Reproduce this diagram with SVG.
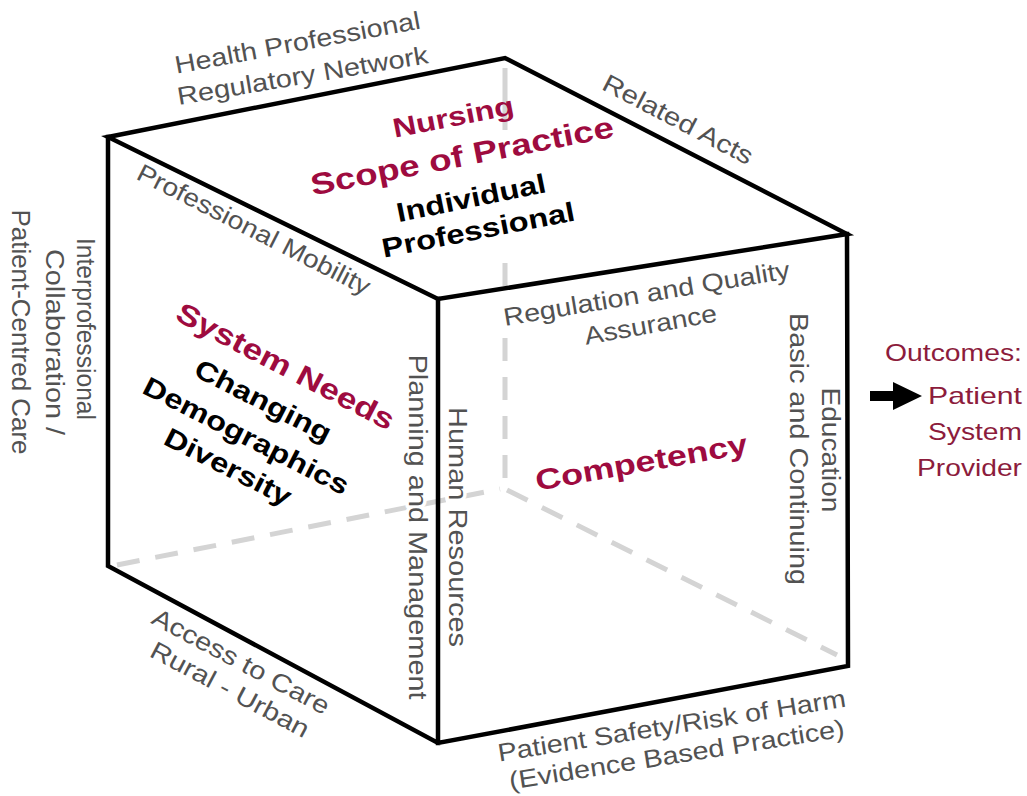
<svg xmlns="http://www.w3.org/2000/svg" width="1027" height="796" viewBox="0 0 1027 796">
<style>
text { font-family: "Liberation Sans", Arial, sans-serif; }
.lbl { font-size: 25px; fill: #525252; text-anchor: middle; }
.vl { font-size: 26px; fill: #525252; text-anchor: middle; paint-order: stroke; stroke: #ffffff; stroke-width: 7px; stroke-linejoin: round; }
.hd { font-weight: bold; fill: #9e0b3f; text-anchor: middle; }
.bk { font-weight: bold; fill: #000000; text-anchor: middle; font-size: 27px; }
.out { font-size: 24px; fill: #8c1c3c; text-anchor: end; }
.edge { fill: none; stroke: #000000; stroke-width: 4.5; stroke-linejoin: miter; stroke-linecap: square; }
.hid { fill: none; stroke: #d4d4d4; stroke-width: 5; }
.dash { stroke-dasharray: 23 16; }
</style>
<rect width="1027" height="796" fill="#ffffff"/>

<g id="connectors">
  <path class="hid" d="M505,68 V130 M505,263 V286"/>
  <path class="hid dash" d="M505,338 V480"/>
  <path class="hid dash" d="M117,565 L500,489"/>
  <path class="hid dash" d="M507,490 L837,655"/>
</g>

<g id="cube">
  <path class="edge" d="M108,137 L505,58 L847,234 L438,299 Z"/>
  <path class="edge" d="M108,137 V566 L438,743 L848,666 L847,234 M438,299 V743"/>
</g>

<g id="top-face">
  <text class="hd" font-size="27" textLength="123" lengthAdjust="spacingAndGlyphs" transform="translate(455,126) rotate(-11)">Nursing</text>
  <text class="hd" font-size="30" textLength="308" lengthAdjust="spacingAndGlyphs" transform="translate(464,166) rotate(-11)">Scope of Practice</text>
  <text class="bk" textLength="152" lengthAdjust="spacingAndGlyphs" transform="translate(473,207) rotate(-11.5)">Individual</text>
  <text class="bk" textLength="196" lengthAdjust="spacingAndGlyphs" transform="translate(480,239) rotate(-11)">Professional</text>
</g>

<g id="left-face">
  <text class="hd" font-size="29" textLength="242" lengthAdjust="spacingAndGlyphs" transform="translate(281,375) rotate(27.5)">System Needs</text>
  <text class="bk" textLength="150" lengthAdjust="spacingAndGlyphs" transform="translate(259,409) rotate(27)">Changing</text>
  <text class="bk" textLength="227" lengthAdjust="spacingAndGlyphs" transform="translate(242,444) rotate(27)">Demographics</text>
  <text class="bk" textLength="139" lengthAdjust="spacingAndGlyphs" transform="translate(224,475) rotate(27)">Diversity</text>
</g>

<g id="front-face">
  <text class="hd" font-size="29" textLength="215" lengthAdjust="spacingAndGlyphs" transform="translate(643,472) rotate(-10)">Competency</text>
</g>

<g id="edge-labels">
  <text class="lbl" textLength="249" lengthAdjust="spacingAndGlyphs" transform="translate(299,51) rotate(-10.5)">Health Professional</text>
  <text class="lbl" textLength="254" lengthAdjust="spacingAndGlyphs" transform="translate(304,84) rotate(-9.5)">Regulatory Network</text>
  <text class="lbl" textLength="166" lengthAdjust="spacingAndGlyphs" transform="translate(674,127) rotate(27.5)">Related Acts</text>
  <text class="lbl" textLength="258" lengthAdjust="spacingAndGlyphs" transform="translate(250,237) rotate(27)">Professional Mobility</text>
  <text class="lbl" textLength="290" lengthAdjust="spacingAndGlyphs" transform="translate(648,302) rotate(-9.5)">Regulation and Quality</text>
  <text class="lbl" textLength="134" lengthAdjust="spacingAndGlyphs" transform="translate(652,333) rotate(-10)">Assurance</text>
  <text class="lbl" textLength="197" lengthAdjust="spacingAndGlyphs" transform="translate(237,669) rotate(28)">Access to Care</text>
  <text class="lbl" textLength="176" lengthAdjust="spacingAndGlyphs" transform="translate(226,697) rotate(28)">Rural - Urban</text>
  <text class="lbl" textLength="352" lengthAdjust="spacingAndGlyphs" transform="translate(673,734) rotate(-9)">Patient Safety/Risk of Harm</text>
  <text class="lbl" textLength="339" lengthAdjust="spacingAndGlyphs" transform="translate(678,763) rotate(-9)">(Evidence Based Practice)</text>
  <text class="vl" textLength="182" lengthAdjust="spacingAndGlyphs" transform="translate(77,329) rotate(90)">Interprofessional</text>
  <text class="vl" textLength="186" lengthAdjust="spacingAndGlyphs" transform="translate(46,342) rotate(90)">Collaboration /</text>
  <text class="vl" textLength="245" lengthAdjust="spacingAndGlyphs" transform="translate(12,332) rotate(90)">Patient-Centred Care</text>
  <text class="vl" textLength="345" lengthAdjust="spacingAndGlyphs" transform="translate(409,527) rotate(90)">Planning and Management</text>
  <text class="vl" textLength="240" lengthAdjust="spacingAndGlyphs" transform="translate(449,527) rotate(90)">Human Resources</text>
  <text class="vl" textLength="125" lengthAdjust="spacingAndGlyphs" transform="translate(822,450) rotate(90)">Education</text>
  <text class="vl" textLength="272" lengthAdjust="spacingAndGlyphs" transform="translate(790,449) rotate(90)">Basic and Continuing</text>
</g>

<g id="outcomes">
  <polygon points="870,391 893,391 893,382 922,396 893,410 893,401 870,401" fill="#000000"/>
  <text class="out" x="1022" y="361" textLength="137" lengthAdjust="spacingAndGlyphs">Outcomes:</text>
  <text class="out" x="1022" y="404" textLength="94" lengthAdjust="spacingAndGlyphs">Patient</text>
  <text class="out" x="1022" y="440" textLength="94" lengthAdjust="spacingAndGlyphs">System</text>
  <text class="out" x="1022" y="476" textLength="105" lengthAdjust="spacingAndGlyphs">Provider</text>
</g>
</svg>
